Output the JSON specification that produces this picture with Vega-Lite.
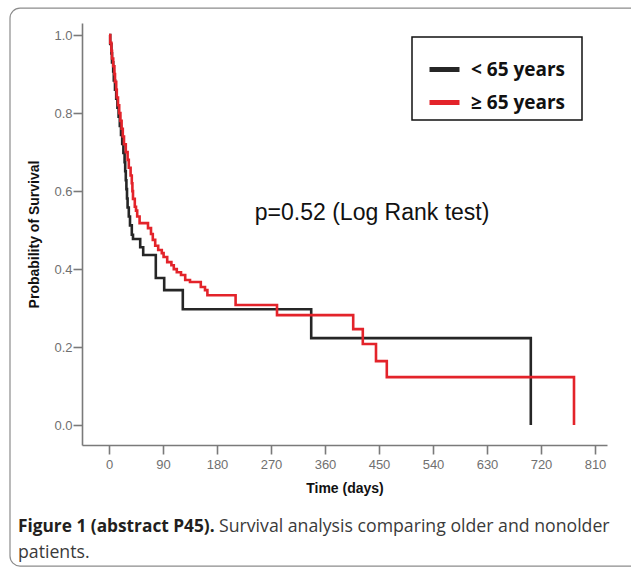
{
  "$schema": "https://vega.github.io/schema/vega-lite/v6.json",
  "width": 525,
  "height": 422,
  "autosize": {"type": "none"},
  "padding": {"left": 82, "top": 23, "right": 24, "bottom": 122},
  "background": "white",
  "config": {
    "view": {"stroke": null},
    "axis": {
      "grid": false,
      "domainColor": "#7a7a7a",
      "domainWidth": 1.6,
      "tickColor": "#7a7a7a",
      "tickWidth": 1.6,
      "tickSize": 9,
      "labelFont": "Liberation Sans",
      "labelFontSize": 13,
      "labelColor": "#707070",
      "titleFont": "Liberation Sans",
      "titleFontSize": 14,
      "titleFontWeight": "bold",
      "titleColor": "#111111"
    },
    "legend": {"strokeWidth": 1.5}
  },
  "datasets": {
    "km": [
      {"group": "< 65 years", "day": 0, "surv": 1.0},
      {"group": "< 65 years", "day": 2, "surv": 0.977},
      {"group": "< 65 years", "day": 4, "surv": 0.953},
      {"group": "< 65 years", "day": 5, "surv": 0.93},
      {"group": "< 65 years", "day": 7, "surv": 0.907},
      {"group": "< 65 years", "day": 8, "surv": 0.884},
      {"group": "< 65 years", "day": 10, "surv": 0.86},
      {"group": "< 65 years", "day": 12, "surv": 0.837},
      {"group": "< 65 years", "day": 14, "surv": 0.814},
      {"group": "< 65 years", "day": 16, "surv": 0.791},
      {"group": "< 65 years", "day": 18, "surv": 0.767},
      {"group": "< 65 years", "day": 20, "surv": 0.744},
      {"group": "< 65 years", "day": 22, "surv": 0.721},
      {"group": "< 65 years", "day": 24, "surv": 0.698},
      {"group": "< 65 years", "day": 26, "surv": 0.674},
      {"group": "< 65 years", "day": 27, "surv": 0.651},
      {"group": "< 65 years", "day": 28, "surv": 0.628},
      {"group": "< 65 years", "day": 29, "surv": 0.605},
      {"group": "< 65 years", "day": 30, "surv": 0.581},
      {"group": "< 65 years", "day": 31, "surv": 0.558},
      {"group": "< 65 years", "day": 33, "surv": 0.535},
      {"group": "< 65 years", "day": 35, "surv": 0.512},
      {"group": "< 65 years", "day": 38, "surv": 0.488},
      {"group": "< 65 years", "day": 40, "surv": 0.477},
      {"group": "< 65 years", "day": 52, "surv": 0.456},
      {"group": "< 65 years", "day": 57, "surv": 0.436},
      {"group": "< 65 years", "day": 78, "surv": 0.377},
      {"group": "< 65 years", "day": 92, "surv": 0.346},
      {"group": "< 65 years", "day": 123, "surv": 0.297},
      {"group": "< 65 years", "day": 337, "surv": 0.223},
      {"group": "< 65 years", "day": 703, "surv": 0.0},
      {"group": "≥ 65 years", "day": 0, "surv": 1.0},
      {"group": "≥ 65 years", "day": 2, "surv": 0.98},
      {"group": "≥ 65 years", "day": 4, "surv": 0.96},
      {"group": "≥ 65 years", "day": 5, "surv": 0.94},
      {"group": "≥ 65 years", "day": 7, "surv": 0.92},
      {"group": "≥ 65 years", "day": 9, "surv": 0.9},
      {"group": "≥ 65 years", "day": 10, "surv": 0.88},
      {"group": "≥ 65 years", "day": 12, "surv": 0.86},
      {"group": "≥ 65 years", "day": 13, "surv": 0.84},
      {"group": "≥ 65 years", "day": 15, "surv": 0.82},
      {"group": "≥ 65 years", "day": 17, "surv": 0.8},
      {"group": "≥ 65 years", "day": 19, "surv": 0.78},
      {"group": "≥ 65 years", "day": 21, "surv": 0.76},
      {"group": "≥ 65 years", "day": 23, "surv": 0.74},
      {"group": "≥ 65 years", "day": 25, "surv": 0.72},
      {"group": "≥ 65 years", "day": 28, "surv": 0.7},
      {"group": "≥ 65 years", "day": 31, "surv": 0.68},
      {"group": "≥ 65 years", "day": 33, "surv": 0.66},
      {"group": "≥ 65 years", "day": 36, "surv": 0.64},
      {"group": "≥ 65 years", "day": 38, "surv": 0.62},
      {"group": "≥ 65 years", "day": 39, "surv": 0.6},
      {"group": "≥ 65 years", "day": 40, "surv": 0.58},
      {"group": "≥ 65 years", "day": 43, "surv": 0.56},
      {"group": "≥ 65 years", "day": 45, "surv": 0.55},
      {"group": "≥ 65 years", "day": 47, "surv": 0.535},
      {"group": "≥ 65 years", "day": 51, "surv": 0.518},
      {"group": "≥ 65 years", "day": 65, "surv": 0.505},
      {"group": "≥ 65 years", "day": 70, "surv": 0.49},
      {"group": "≥ 65 years", "day": 73, "surv": 0.475},
      {"group": "≥ 65 years", "day": 77, "surv": 0.46},
      {"group": "≥ 65 years", "day": 82, "surv": 0.449},
      {"group": "≥ 65 years", "day": 88, "surv": 0.441},
      {"group": "≥ 65 years", "day": 91, "surv": 0.431},
      {"group": "≥ 65 years", "day": 97, "surv": 0.418},
      {"group": "≥ 65 years", "day": 104, "surv": 0.41},
      {"group": "≥ 65 years", "day": 108, "surv": 0.4},
      {"group": "≥ 65 years", "day": 113, "surv": 0.392},
      {"group": "≥ 65 years", "day": 120, "surv": 0.385},
      {"group": "≥ 65 years", "day": 127, "surv": 0.372},
      {"group": "≥ 65 years", "day": 135, "surv": 0.367},
      {"group": "≥ 65 years", "day": 153, "surv": 0.354},
      {"group": "≥ 65 years", "day": 160, "surv": 0.346},
      {"group": "≥ 65 years", "day": 164, "surv": 0.333},
      {"group": "≥ 65 years", "day": 211, "surv": 0.308},
      {"group": "≥ 65 years", "day": 280, "surv": 0.282},
      {"group": "≥ 65 years", "day": 407, "surv": 0.246},
      {"group": "≥ 65 years", "day": 423, "surv": 0.208},
      {"group": "≥ 65 years", "day": 445, "surv": 0.164},
      {"group": "≥ 65 years", "day": 463, "surv": 0.123},
      {"group": "≥ 65 years", "day": 775, "surv": 0.0}
    ]
  },
  "layer": [
    {
      "data": {"values": [{}]},
      "mark": {"type": "rect", "fill": null, "stroke": "#8c8c8c", "strokeWidth": 1.2, "cornerRadius": 10, "clip": false},
      "encoding": {
        "x": {"datum": -165, "type": "quantitative"},
        "x2": {"datum": 893},
        "y": {"datum": 1.069, "type": "quantitative"},
        "y2": {"datum": -0.3615}
      }
    },
    {
      "data": {"name": "km"},
      "mark": {"type": "line", "interpolate": "step-after", "strokeWidth": 2.6},
      "encoding": {
        "x": {
          "field": "day", "type": "quantitative",
          "scale": {"domain": [-45, 830], "nice": false, "zero": false},
          "axis": {"title": "Time (days)", "values": [0, 90, 180, 270, 360, 450, 540, 630, 720, 810], "labelPadding": 4, "titlePadding": 10}
        },
        "y": {
          "field": "surv", "type": "quantitative",
          "scale": {"domain": [-0.051, 1.031], "nice": false, "zero": false},
          "axis": {"title": "Probability of Survival", "values": [0, 0.2, 0.4, 0.6, 0.8, 1.0], "format": ".1f", "labelPadding": 1, "titlePadding": 12}
        },
        "color": {
          "field": "group", "type": "nominal",
          "scale": {"domain": ["< 65 years", "≥ 65 years"], "range": ["#262626", "#e3232a"]},
          "legend": {
            "orient": "none", "legendX": 330, "legendY": 14,
            "title": " ", "titleFontSize": 5, "titlePadding": 3,
            "padding": 7, "strokeColor": "#111111",
            "symbolType": "stroke", "symbolSize": 900, "symbolStrokeWidth": 5,
            "symbolOffset": 8, "labelOffset": 9, "rowPadding": 5,
            "labelFont": "Open Sans", "labelFontSize": 19, "labelFontWeight": "bold", "labelColor": "#111111",
            "labelExpr": "datum.label + '\u00a0\u00a0\u200b'"
          }
        }
      }
    },
    {
      "data": {"values": [{}]},
      "mark": {"type": "text", "text": "p=0.52 (Log Rank test)", "font": "Liberation Sans", "fontSize": 23, "align": "left", "baseline": "middle", "color": "#111111"},
      "encoding": {
        "x": {"datum": 243, "type": "quantitative"},
        "y": {"datum": 0.543, "type": "quantitative"}
      }
    },
    {
      "data": {"values": [{}]},
      "mark": {"type": "text", "text": "Figure 1 (abstract P45).", "font": "Open Sans", "fontSize": 17.3, "fontWeight": "bold", "align": "left", "baseline": "alphabetic", "color": "#231f20"},
      "encoding": {
        "x": {"datum": -151.7, "type": "quantitative"},
        "y": {"datum": -0.274, "type": "quantitative"}
      }
    },
    {
      "data": {"values": [{}]},
      "mark": {"type": "text", "text": "Survival analysis comparing older and nonolder", "font": "Open Sans", "fontSize": 17.7, "align": "left", "baseline": "alphabetic", "color": "#3a3a3a"},
      "encoding": {
        "x": {"datum": 183.3, "type": "quantitative"},
        "y": {"datum": -0.274, "type": "quantitative"}
      }
    },
    {
      "data": {"values": [{}]},
      "mark": {"type": "text", "text": "patients.", "font": "Open Sans", "fontSize": 17.7, "align": "left", "baseline": "alphabetic", "color": "#3a3a3a"},
      "encoding": {
        "x": {"datum": -151.7, "type": "quantitative"},
        "y": {"datum": -0.34, "type": "quantitative"}
      }
    }
  ]
}
